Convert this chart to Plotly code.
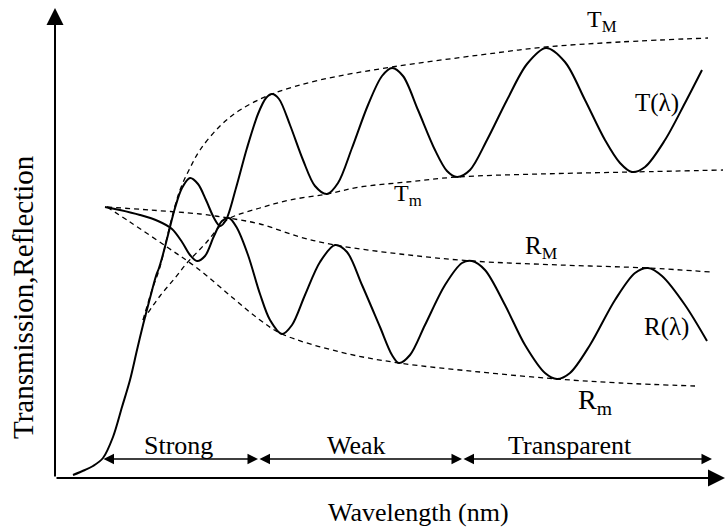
import plotly.graph_objects as go

# ---- data (arbitrary units: x = wavelength, y = transmission / reflection) ----
T_x = [18, 30, 38, 48, 58, 67, 75, 82, 88, 95, 101, 104, 107, 113, 120, 127, 135, 143, 151, 159, 165,
       171, 181, 192, 203, 211, 217, 224, 235, 248, 260, 272, 283, 297, 313, 327, 337, 348, 363, 380,
       392, 402, 415, 432, 452, 472, 491, 510, 530, 550, 565, 577, 590, 610, 630, 647]
T_y = [3, 8, 12, 20, 41, 71, 98, 128, 153, 180, 202, 210, 220, 243, 270, 290, 300, 294, 278, 260, 252,
       258, 290, 330, 364, 380, 384, 379, 353, 318, 292, 284, 295, 330, 373, 402, 410, 402, 368, 328,
       307, 301, 308, 338, 378, 414, 430, 416, 378, 338, 315, 306, 311, 338, 375, 408]

R_x = [50, 65, 85, 103, 117, 127, 135, 142, 150, 159, 167, 174, 182, 193, 205, 215, 227, 237, 250, 265,
       280, 292, 307, 325, 337, 344, 355, 370, 390, 407, 417, 430, 450, 470, 490, 502, 515, 535, 560,
       580, 593, 607, 630, 652]
R_y = [271, 268, 263, 257, 249, 236, 223, 217, 222, 242, 257, 260, 250, 223, 184, 158, 144, 153, 183, 216,
       233, 226, 193, 151, 123, 115, 123, 153, 193, 215, 217, 208, 173, 133, 105, 99, 105, 133, 178,
       205, 210, 202, 173, 137]

TM_x = [88, 97, 105, 115, 125, 135, 145, 165, 185, 217, 265, 337, 425, 491, 565, 653]
TM_y = [158, 188, 211, 253, 288, 310, 328, 352, 368, 384, 398, 411, 423, 431, 436, 440]

Tm_x = [88, 105, 120, 132, 150, 172, 205, 235, 272, 305, 352, 402, 485, 577, 668]
Tm_y = [158, 182, 200, 215, 234, 258, 270, 278, 284, 291, 296, 301, 304, 306, 308]

RM_x = [52, 95, 145, 173, 205, 245, 280, 345, 417, 505, 593, 655]
RM_y = [271, 268, 264, 260, 254, 241, 233, 224, 217, 213, 210, 206]

Rm_x = [52, 75, 112, 142, 178, 205, 227, 285, 344, 425, 502, 565, 640]
Rm_y = [271, 256, 231, 210, 180, 158, 144, 126, 115, 106, 99, 95, 92]

region_edges = [47, 203, 407, 657]
region_labels = ["Strong", "Weak", "Transparent"]

FONT = "Liberation Serif, Times New Roman, serif"

fig = go.Figure()

def dashed(x, y):
    fig.add_trace(go.Scatter(x=x, y=y, mode="lines",
                             line=dict(color="black", width=1.3, dash="5px,4px", shape="spline", smoothing=1.0),
                             hoverinfo="skip"))

def solid(x, y):
    fig.add_trace(go.Scatter(x=x, y=y, mode="lines",
                             line=dict(color="black", width=2, shape="spline", smoothing=0.9),
                             hoverinfo="skip"))

dashed(TM_x, TM_y)
dashed(Tm_x, Tm_y)
dashed(RM_x, RM_y)
dashed(Rm_x, Rm_y)
solid(T_x, T_y)
solid(R_x, R_y)

ann = []
# axes with arrow heads
ann.append(dict(x=0, y=470, ax=0, ay=0, xref="x", yref="y", axref="x", ayref="y", text="",
                showarrow=True, arrowhead=2, arrowsize=1.7, arrowwidth=2, arrowcolor="black", standoff=0))
ann.append(dict(x=670, y=0, ax=0, ay=0, xref="x", yref="y", axref="x", ayref="y", text="",
                showarrow=True, arrowhead=2, arrowsize=1.7, arrowwidth=2, arrowcolor="black", standoff=0))

# absorption-region arrows
region_label_x = [123, 301, 515]
for i, lab in enumerate(region_labels):
    ann.append(dict(x=region_edges[i + 1], y=19, ax=region_edges[i], ay=19, xref="x", yref="y",
                    axref="x", ayref="y", text="", showarrow=True, arrowhead=2, startarrowhead=2,
                    arrowside="end+start", arrowsize=1.4, startarrowsize=1.4, arrowwidth=1.5,
                    arrowcolor="black", standoff=0, startstandoff=0))
    ann.append(dict(x=region_label_x[i], y=33, xref="x", yref="y", text=lab, showarrow=False,
                    font=dict(family=FONT, size=26, color="black"), xanchor="center", yanchor="middle"))

def label(x, y, text, size=24):
    ann.append(dict(x=x, y=y, xref="x", yref="y", text=text, showarrow=False,
                    font=dict(family=FONT, size=size, color="black"), xanchor="center", yanchor="middle"))

label(547, 457, "T<sub>M</sub>", 24)
label(602, 375, "T(λ)", 25)
label(353, 283, "T<sub>m</sub>", 24)
label(486, 231, "R<sub>M</sub>", 25)
label(611, 151, "R(λ)", 25)
label(540, 77, "R<sub>m</sub>", 28)

# axis titles
label(363, -34, "Wavelength (nm)", 26)
ann.append(dict(x=-32, y=181, xref="x", yref="y", text="Transmission,Reflection", showarrow=False,
                textangle=-90, font=dict(family=FONT, size=29, color="black"),
                xanchor="center", yanchor="middle"))

fig.update_layout(
    width=725, height=527,
    margin=dict(l=0, r=0, t=0, b=0),
    paper_bgcolor="white", plot_bgcolor="white",
    showlegend=False,
    xaxis=dict(range=[-55, 670], visible=False, fixedrange=True),
    yaxis=dict(range=[-49, 478], visible=False, fixedrange=True),
    annotations=ann,
)

fig.write_html("out.html", config={"displayModeBar": False},
               post_script="document.body.style.margin='0px';document.body.style.overflow='hidden';")
